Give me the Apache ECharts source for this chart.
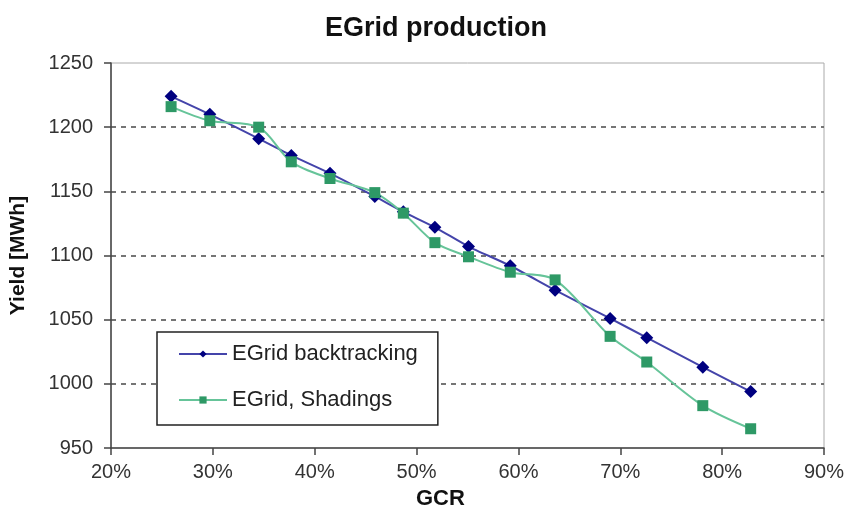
<!DOCTYPE html>
<html>
<head>
<meta charset="utf-8">
<script src="https://cdn.jsdelivr.net/npm/echarts@6/dist/echarts.min.js"></script>
<style>html,body{margin:0;padding:0;background:#fff}#c{width:844px;height:511px}</style>
</head>
<body>
<div id="c"></div>
<script>
var gcr = [25.9, 29.7, 34.5, 37.7, 41.5, 45.9, 48.7, 51.8, 55.1, 59.2, 63.6, 69.0, 72.6, 78.1, 82.8];
var backtracking = [1224, 1210, 1191, 1178, 1164, 1146, 1134, 1122, 1107, 1092, 1073, 1051, 1036, 1013, 994];
var shadings = [1216, 1205, 1200, 1173, 1160, 1149, 1133, 1110, 1099, 1087, 1081, 1037, 1017, 983, 965];
var xTicks = [20, 30, 40, 50, 60, 70, 80, 90];
var yTicks = [950, 1000, 1050, 1100, 1150, 1200, 1250];

function pairs(xs, ys) { return xs.map(function (x, i) { return [x, ys[i]]; }); }

var FONT = 'Liberation Sans, Arial, sans-serif';
var chart = echarts.init(document.getElementById('c'));
chart.setOption({
  animation: false,
  backgroundColor: '#fff',
  title: {
    text: 'EGrid production', left: 431, top: 10, textAlign: 'center',
    textStyle: { fontFamily: FONT, fontWeight: 'bold', fontSize: 27, color: '#111' }
  },
  grid: { left: 111, right: 20, top: 63, bottom: 63, containLabel: false, outerBoundsMode: 'none', show: true, borderColor: '#aaa', borderWidth: 1 },
  xAxis: {
    type: 'value', min: xTicks[0], max: xTicks[xTicks.length - 1], interval: 10,
    axisLine: { show: true, lineStyle: { color: '#444', width: 1.5 } },
    axisTick: { show: true, length: 7, lineStyle: { color: '#444', width: 1.5 } },
    splitLine: { show: false },
    axisLabel: { formatter: '{value}%', fontFamily: FONT, fontSize: 20, color: '#333', margin: 14 }
  },
  yAxis: {
    type: 'value', min: yTicks[0], max: yTicks[yTicks.length - 1], interval: 50,
    axisLine: { show: true, lineStyle: { color: '#444', width: 1.5 } },
    axisTick: { show: true, length: 7, lineStyle: { color: '#444', width: 1.5 } },
    splitLine: { show: true, showMinLine: false, showMaxLine: false, lineStyle: { color: '#666', type: [5, 5], width: 1.8 } },
    axisLabel: { formatter: function (v) { return String(v); }, fontFamily: FONT, fontSize: 20, color: '#333', margin: 18 },
    name: 'Yield [MWh]', nameLocation: 'middle', nameGap: 82, nameRotate: 90,
    nameTextStyle: { fontFamily: FONT, fontWeight: 'bold', fontSize: 21, color: '#111' }
  },
  graphic: [{
    type: 'text', left: 416, top: 488,
    style: { text: 'GCR', font: 'bold 22px "Liberation Sans", Arial', fill: '#111' }
  }],
  legend: {
    orient: 'vertical', left: 157, top: 332,
    padding: [11, 20, 14, 21],
    backgroundColor: '#fff', borderColor: '#222', borderWidth: 1.5,
    itemWidth: 48, itemHeight: 9, itemGap: 24,
    textStyle: { fontFamily: FONT, fontSize: 22, color: '#222' },
    data: ['EGrid backtracking', 'EGrid, Shadings']
  },
  series: [{
    name: 'EGrid backtracking', type: 'line', data: pairs(gcr, backtracking),
    symbol: 'diamond', symbolSize: 13, smooth: 0.2,
    lineStyle: { color: '#4444aa', width: 2 },
    itemStyle: { color: '#000080' }
  }, {
    name: 'EGrid, Shadings', type: 'line', data: pairs(gcr, shadings),
    symbol: 'rect', symbolSize: 11, smooth: 0.3,
    lineStyle: { color: '#66c499', width: 2 },
    itemStyle: { color: '#2e9966' }
  }]
});
</script>
</body>
</html>
